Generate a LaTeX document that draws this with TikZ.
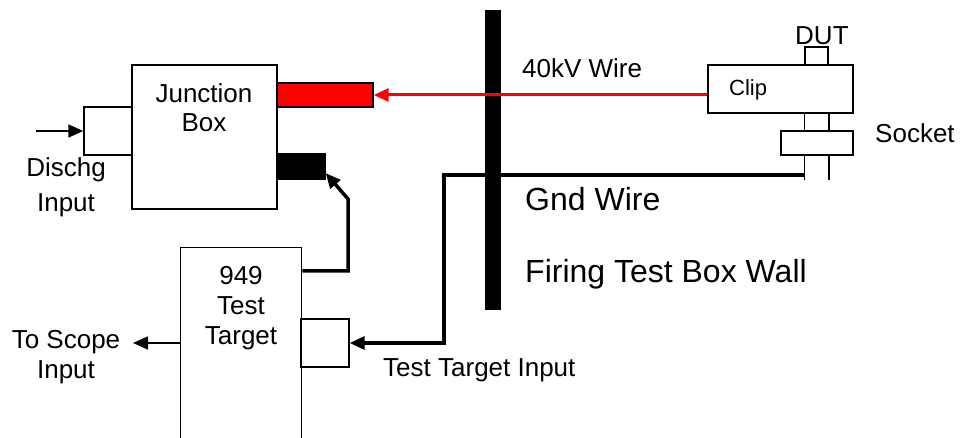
\documentclass[tikz,border=0pt]{standalone}
\usepackage{fontspec}
\setmainfont{Liberation Sans}
\usetikzlibrary{arrows.meta,positioning,calc}

\begin{document}
\begin{tikzpicture}[
  x=1pt,y=-1pt,
  >={Triangle[length=15pt,width=13pt]},
  box/.style={draw,line width=1.4pt,fill=white,inner sep=0pt},
  feed/.style={line width=1.6pt},
  wire/.style={line width=3.5pt},
  hvwire/.style={draw=red,line width=3pt},
  txt/.style={font=\fontsize{26}{30}\selectfont,inner sep=0pt},
  bigtxt/.style={font=\fontsize{32}{38}\selectfont,inner sep=0pt},
]
\useasboundingbox (0,0) rectangle (961,438);
\clip (0,0) rectangle (961,438);

% ===================== WALL =====================
\node[fill=black,minimum width=16pt,minimum height=300pt,inner sep=0pt] (wall) at (493,160) {};

% ===================== JUNCTION BOX SIDE =====================
\node[box,minimum width=145pt,minimum height=144pt] (jbox) at (204.5,137) {};
\node[txt,align=center,anchor=north,font=\fontsize{26}{29}\selectfont] (jlbl) at (204,83) {Junction\\Box};
\node[box,minimum width=48pt,minimum height=48pt] (dbox) at (108,131) {};
\node[box,fill=red,minimum width=96pt,minimum height=24pt] (redpin) at (325,95) {};
\node[box,fill=black,minimum width=48pt,minimum height=25pt] (blkpin) at (301,166.5) {};
\node[txt,align=center,anchor=north,font=\fontsize{26}{35}\selectfont] (dlbl) at (66,157) {Dischg\\Input};
\coordinate (din) at (36,131);
\draw[feed,->] (din) -- (dbox.west);

% ===================== TEST TARGET =====================
\node[box,minimum width=121pt,minimum height=210pt,anchor=north west] (ttgt) at (180,247) {};
\node[txt,align=center,anchor=north] (tlbl) at (241,266) {949\\Test\\Target};
\node[box,minimum width=48pt,minimum height=48pt] (tbox) at (325,343) {};
\node[txt,align=center,anchor=north] (slbl) at (66,330) {To Scope\\Input};
\node[txt,anchor=base west] (tilbl) at (383,376) {Test Target Input};
\coordinate (scope) at (133,343);
\draw[feed,->] (ttgt.west |- tbox.east) -- (scope);

% ===================== DUT, CLIP, SOCKET =====================
\node[box,minimum width=23pt,minimum height=18pt] (dut) at (816.5,56) {};
\coordinate (pinbot) at (0,180);
\draw[feed] (dut.south west) -- (dut.south west |- pinbot);
\draw[feed] (dut.south east) -- (dut.south east |- pinbot);
\node[box,minimum width=145pt,minimum height=48pt] (clip) at (780.5,89) {};
\node[box,minimum width=72pt,minimum height=24pt] (sock) at (817,143) {};
\node[txt,anchor=base west] (dutlbl) at (795,45) {DUT};
\node[txt,anchor=base west,font=\fontsize{22}{26}\selectfont] (cliplbl) at (729,96) {Clip};
\node[txt,anchor=base west] (socklbl) at (875,143) {Socket};

% ===================== WIRES =====================
\draw[hvwire,->] (clip.west |- redpin.east) -- (redpin.east);
\coordinate (gw) at (805,175);
\coordinate (gb) at (444,175);
\draw[wire,->] (gw) -- (gb) |- (tbox.east);
\coordinate (jb) at (348,199);
\draw[wire,->] ($(ttgt.north east)+(0,24)$) -| (jb) -- ($(blkpin.south east)!0.5!(blkpin.east)$);

\node[txt,anchor=base west] (wlbl) at (522,78) {40kV Wire};
\node[bigtxt,anchor=base west] (glbl) at (525,211) {Gnd Wire};
\node[bigtxt,anchor=base west] (fwlbl) at (525,283) {Firing Test Box Wall};

\end{tikzpicture}
\end{document}
